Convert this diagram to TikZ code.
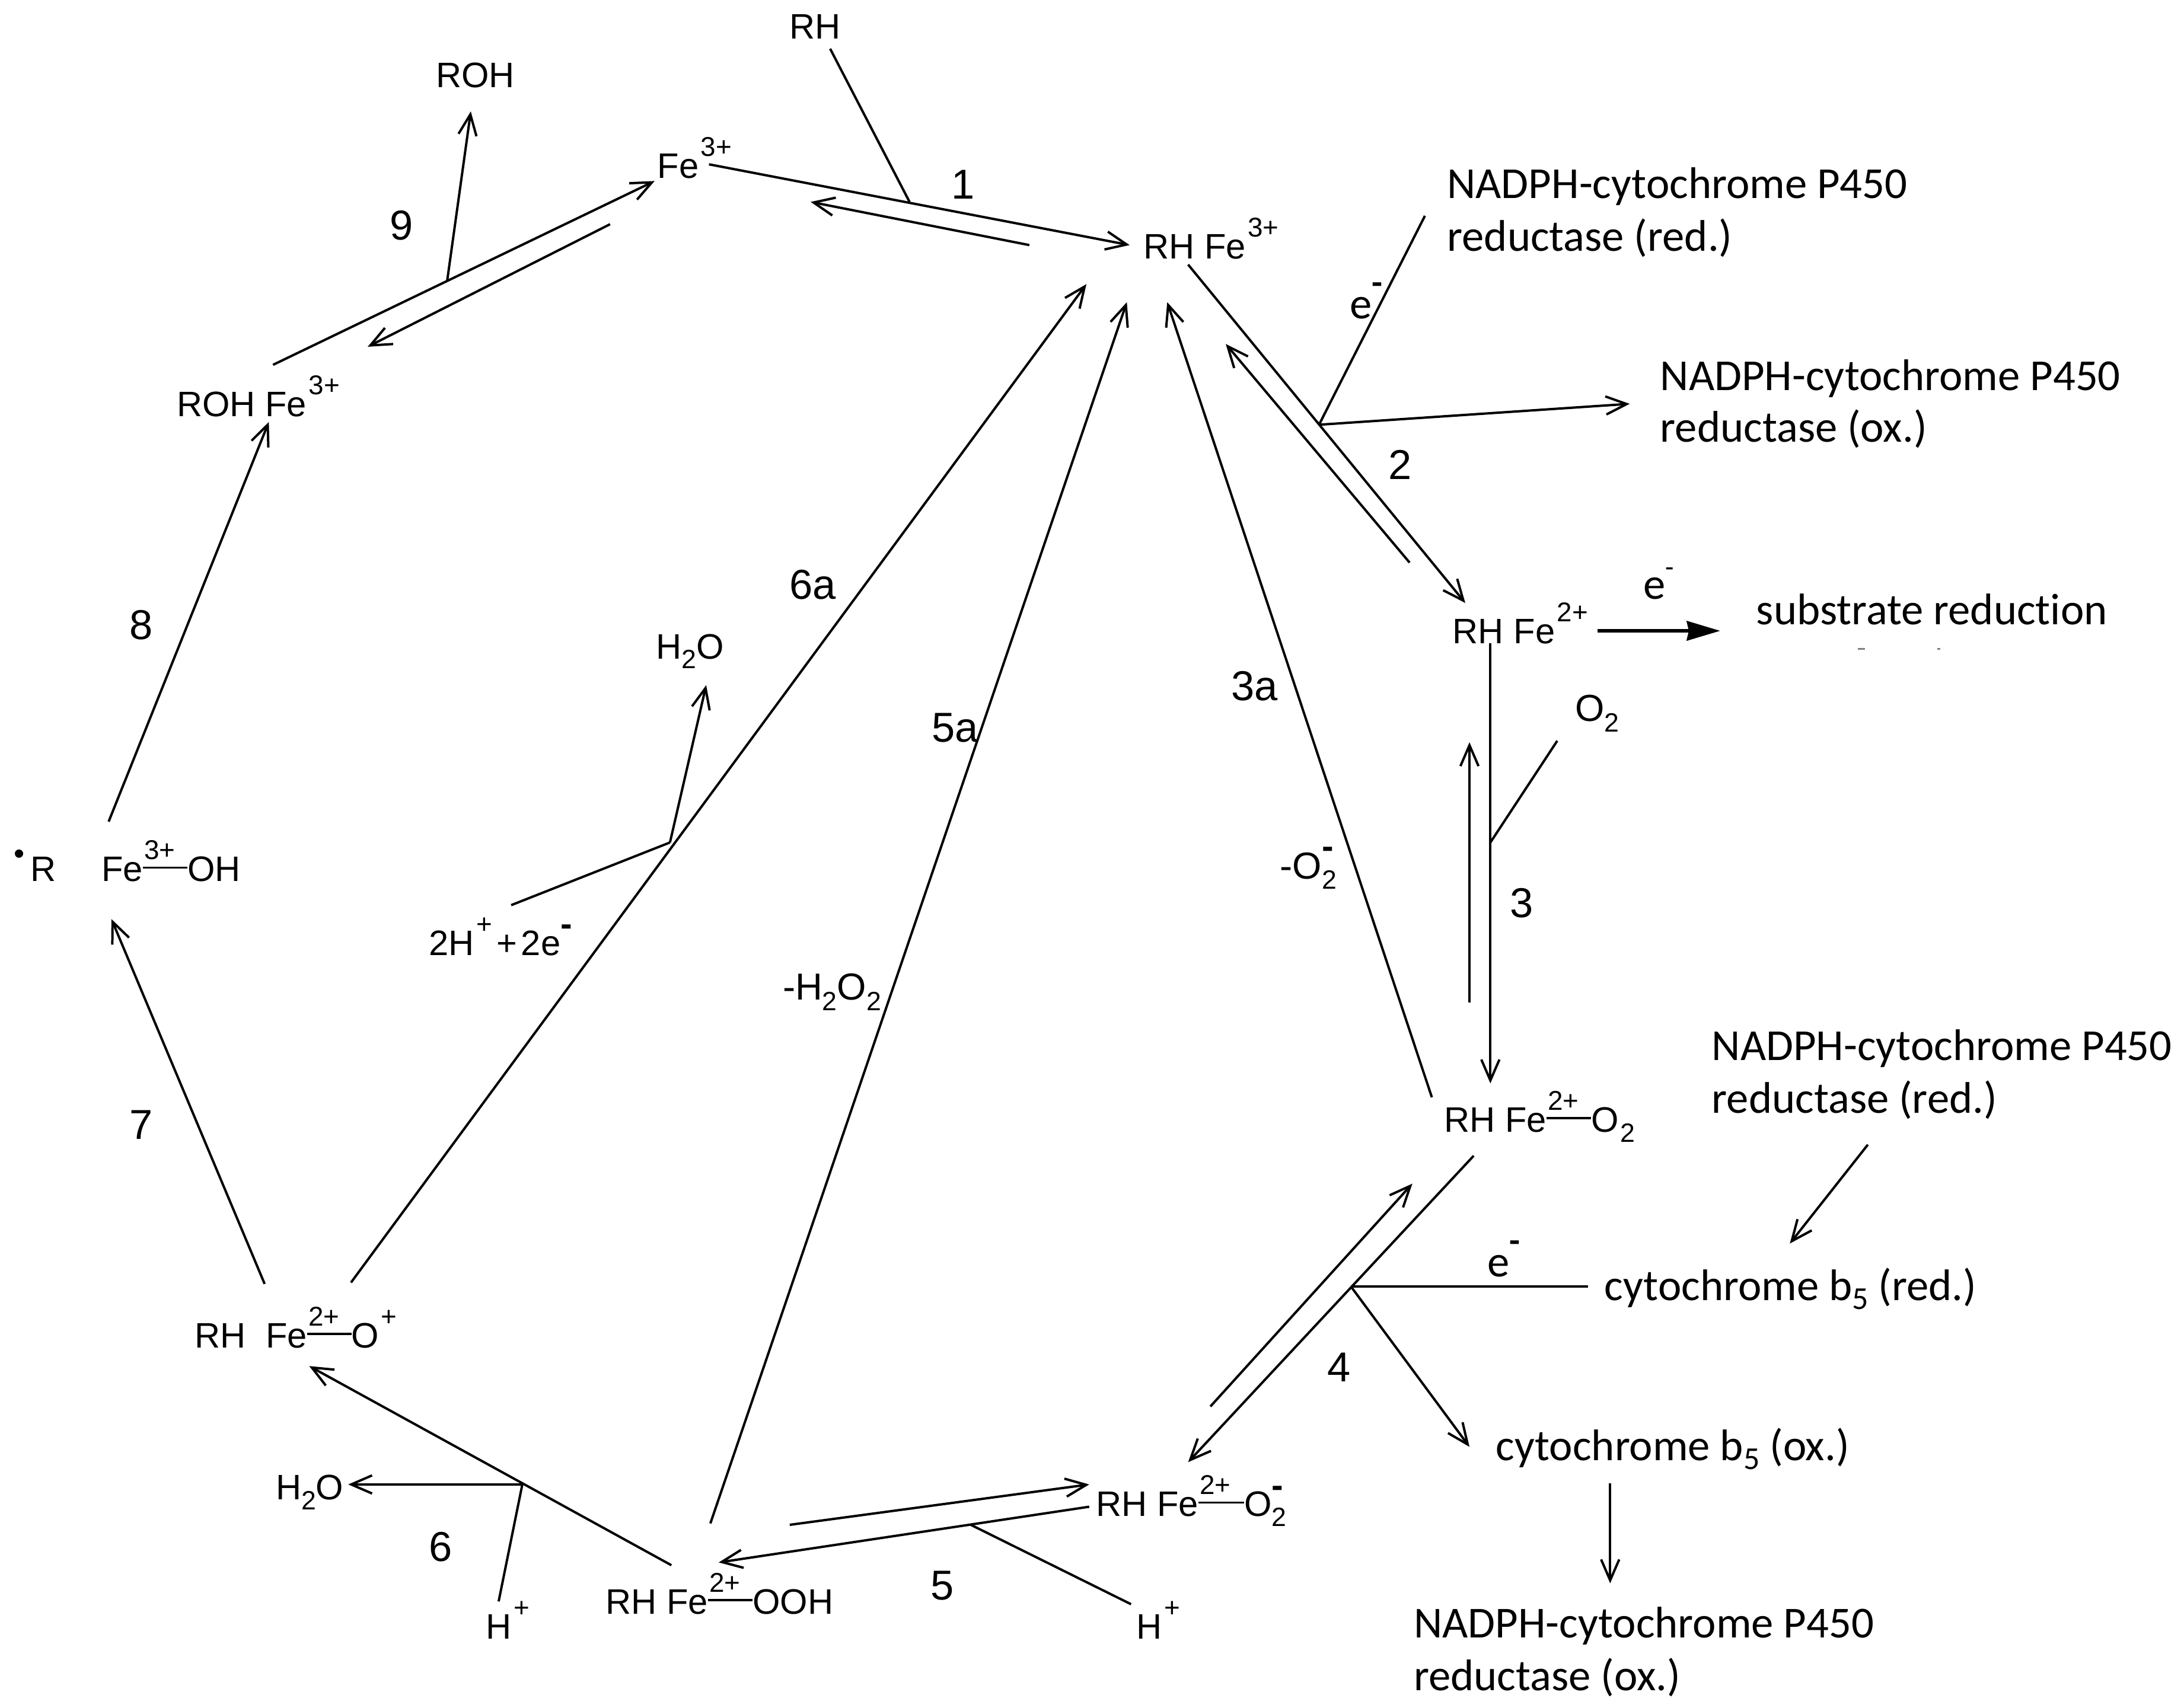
\documentclass[tikz,border=0pt]{standalone}
\usepackage{fontspec}
\setmainfont{Liberation Sans}
\newfontfamily\calfam[Ligatures=NoCommon]{Carlito}
\usetikzlibrary{arrows.meta}
\newcommand{\up}[1]{\kern1.5pt\raisebox{0.62em}{\fontsize{19.5}{19}\selectfont #1}}
\newcommand{\dn}[1]{\raisebox{-0.28em}{\fontsize{19}{18}\selectfont #1}}
\newcommand{\dnl}[1]{\raisebox{-0.2em}{\fontsize{23}{18}\selectfont #1}}
\newcommand{\bnd}[2]{\makebox[0pt][l]{\kern1pt\raisebox{0.62em}{\fontsize{19.5}{19}\selectfont #2}}\rule[0.36em]{#1pt}{1.6pt}}
\newcommand{\um}{\raisebox{0.55em}{\fontsize{25}{24}\selectfont\bfseries -}}
\tikzset{
 every node/.style={inner sep=0pt,outer sep=0pt,anchor=base west},
 chem/.style={font=\fontsize{25.4}{25}\selectfont},
 bigchem/.style={font=\fontsize{27}{27}\selectfont},
 num/.style={font=\fontsize{30}{30}\selectfont},
 lab/.style={font=\calfam\fontsize{31.8}{31}\selectfont},
 line/.style={draw=black,line width=1.7pt},
 arr/.style={line,-{Straight Barb[length=15pt,width=13pt,line width=1.7pt]}},
 solidarr/.style={line,line width=2.2pt,-{Stealth[length=24pt,width=14pt,inset=1.5pt]}}
}
\begin{document}
\begin{tikzpicture}[x=1pt,y=-1pt]
\useasboundingbox (0,0) rectangle (1568,1226.5);
% texts
\node[chem] (rh) at (567,28) {RH};
\node[chem] (roh) at (313,63) {ROH};
\node[chem] (fe) at (472,128) {Fe\up{3+}};
\node[chem] (rhfe3) at (821,186) {RH Fe\up{3+}};
\node[chem] (rohfe) at (127,299) {ROH Fe\up{3+}};
\node[chem] (rhfe2) at (1043,462) {RH Fe\up{2+}};
\node[bigchem] (otwo) at (1131,518) {O\dn{2}};
\node[bigchem] (mo2) at (919,631) {-O\makebox[0pt][l]{\dn{2}}\um};
\node[chem] (rhfeo2) at (1037,813) {RH Fe\bnd{32}{2+}O\kern1pt\dn{2}};
\node[chem] (h2oa) at (471,473) {H\dn{2}O};
\node[chem] (twoh) at (308,686) {2H\up{+}\kern3pt+\kern3pt2e\um};
\node[bigchem] (mh2o2) at (562,718) {-H\dn{2}O\dn{2}};
\node[chem] (rdot) at (10,633) {\raisebox{0.5em}{\fontsize{22}{22}\selectfont\textbullet}\,R};
\node[chem] (feoh) at (73,633) {Fe\bnd{32}{3+}OH};
\node[chem] (rhfeop) at (140,968) {RH\ \ Fe\bnd{32}{2+}O\up{+}};
\node[chem] (h2ob) at (198,1077) {H\dn{2}O};
\node[chem] (hpa) at (349,1177) {H\up{+}};
\node[chem] (hpb) at (816,1177) {H\up{+}};
\node[chem] (rhfeooh) at (435,1159) {RH Fe\bnd{32}{2+}OOH};
\node[chem] (rhfeom) at (787,1089) {RH Fe\bnd{33}{2+}O\makebox[0pt][l]{\dn{2}}\um};
\node[num] (n1) at (683,143) {1};
\node[num] (n2) at (997,344) {2};
\node[num] (n3) at (1084,659) {3};
\node[num] (n3a) at (884,503) {3a};
\node[num] (n4) at (953,992) {4};
\node[num] (n5) at (668,1149) {5};
\node[num] (n5a) at (669,533) {5a};
\node[num] (n6) at (308,1121) {6};
\node[num] (n6a) at (567,430) {6a};
\node[num] (n7) at (93,818) {7};
\node[num] (n8) at (93,459) {8};
\node[num] (n9) at (280,172) {9};
\node[lab] (na1) at (1039,142.5) {NADPH-cytochrome P450};
\node[lab] (na1b) at (1039,180.5) {reductase (red.)};
\node[lab] (na2) at (1192,280.5) {NADPH-cytochrome P450};
\node[lab] (na2b) at (1192,317.5) {reductase (ox.)};
\node[lab] (sub) at (1261,448.5) {substrate reduction};
\node[lab] (ea) at (969,229) {e\um};
\node[lab] (eb) at (1180,430) {e\raisebox{0.5em}{\fontsize{20}{20}\selectfont -}};
\node[lab] (ec) at (1068,917) {e\um};
\node[lab] (na3) at (1229,761.5) {NADPH-cytochrome P450};
\node[lab] (na3b) at (1229,799.5) {reductase (red.)};
\node[lab] (cr) at (1152,934) {cytochrome b\dnl{5} (red.)};
\node[lab] (co) at (1074,1049) {cytochrome b\dnl{5} (ox.)};
\node[lab] (na4) at (1015,1176) {NADPH-cytochrome P450};
\node[lab] (na4b) at (1015,1214) {reductase (ox.)};
% connector ends
\coordinate (a1) at (509,118); \coordinate (a2) at (811,176);
\coordinate (a3) at (739,176); \coordinate (a4) at (582,145);
\coordinate (a5) at (596,35); \coordinate (a6) at (653,145);
\coordinate (b1) at (196,262); \coordinate (b2) at (470,130);
\coordinate (b3) at (438,161); \coordinate (b4) at (264,249);
\coordinate (b5) at (321,202); \coordinate (b6) at (338,80);
\coordinate (c1) at (78,590); \coordinate (c2) at (193,303);
\coordinate (d1) at (190,922); \coordinate (d2) at (80,660);
\coordinate (e1) at (482,1124); \coordinate (e2) at (222,981);
\coordinate (e3) at (375,1066); \coordinate (e4) at (250,1066); \coordinate (e5) at (358,1150);
\coordinate (f1) at (567,1095); \coordinate (f2) at (782,1066);
\coordinate (f3) at (782,1082); \coordinate (f4) at (516,1122);
\coordinate (f5) at (697,1095); \coordinate (f6) at (812,1152);
\coordinate (g1) at (1058,830); \coordinate (g2) at (853,1050);
\coordinate (g3) at (869,1010); \coordinate (g4) at (1014,850);
\coordinate (g5) at (970,924); \coordinate (g6) at (1140,924); \coordinate (g7) at (1055,1039);
\coordinate (h1) at (853,190); \coordinate (h2) at (1052,433);
\coordinate (h3) at (1012,404); \coordinate (h4) at (880,247);
\coordinate (h5) at (947,305); \coordinate (h6) at (1023,155); \coordinate (h7) at (1170,290);
\coordinate (i1) at (1028,788); \coordinate (i2) at (838,217);
\coordinate (i3) at (510,1094); \coordinate (i4) at (809,217);
\coordinate (i5) at (252,921); \coordinate (i6) at (780,204);
\coordinate (j1) at (1070,462); \coordinate (j2) at (1070,778);
\coordinate (j3) at (1055,720); \coordinate (j4) at (1055,533);
\coordinate (j5) at (1070,605); \coordinate (j6) at (1118,532);
\coordinate (k1) at (1147,453); \coordinate (k2) at (1235,453);
\coordinate (l1) at (367,650); \coordinate (l2) at (481,605); \coordinate (l3) at (507,492);
\coordinate (m1) at (1341,822); \coordinate (m2) at (1285,893);
\coordinate (m3) at (1156,1065); \coordinate (m4) at (1156,1137);
\coordinate (t1) at (1334,466); \coordinate (t2) at (1339,466);
\coordinate (t3) at (1391,466); \coordinate (t4) at (1393,466);
% connectors
\draw[arr] (a1) -- (a2);
\draw[arr] (a3) -- (a4);
\draw[line] (a5) -- (a6);
\draw[arr] (b1) -- (b2);
\draw[arr] (b3) -- (b4);
\draw[arr] (b5) -- (b6);
\draw[arr] (c1) -- (c2);
\draw[arr] (d1) -- (d2);
\draw[arr] (e1) -- (e2);
\draw[arr] (e3) -- (e4);
\draw[line] (e3) -- (e5);
\draw[arr] (f1) -- (f2);
\draw[arr] (f3) -- (f4);
\draw[line] (f5) -- (f6);
\draw[arr] (g1) -- (g2);
\draw[arr] (g3) -- (g4);
\draw[line] (g5) -- (g6);
\draw[arr] (g5) -- (g7);
\draw[arr] (h1) -- (h2);
\draw[arr] (h3) -- (h4);
\draw[line] (h5) -- (h6);
\draw[arr] (h5) -- (h7);
\draw[arr] (i1) -- (i2);
\draw[arr] (i3) -- (i4);
\draw[arr] (i5) -- (i6);
\draw[arr] (j1) -- (j2);
\draw[arr] (j3) -- (j4);
\draw[line] (j5) -- (j6);
\draw[solidarr] (k1) -- (k2);
\draw[line] (l1) -- (l2);
\draw[arr] (l2) -- (l3);
\draw[arr] (m1) -- (m2);
\draw[arr] (m3) -- (m4);
\draw[line,gray,line width=1pt] (t1) -- (t2);
\draw[line,gray,line width=1pt] (t3) -- (t4);
\end{tikzpicture}
\end{document}
